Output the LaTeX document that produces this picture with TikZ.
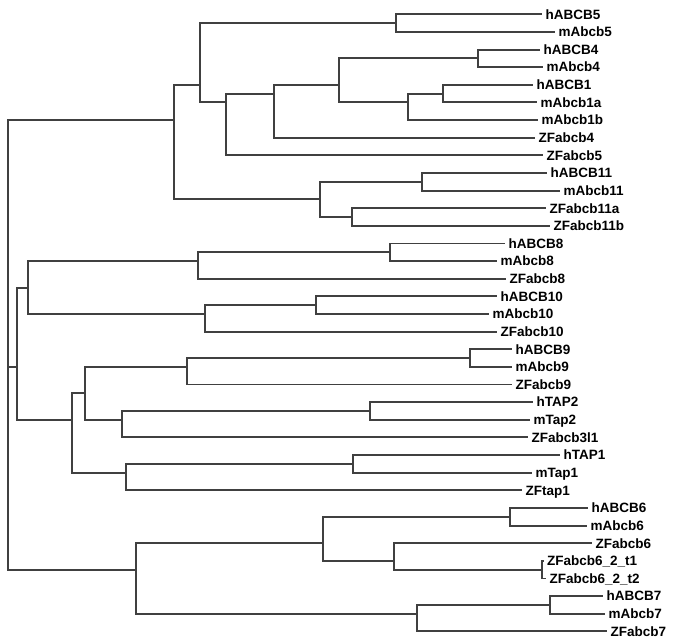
\documentclass[tikz,border=0pt]{standalone}
\usepackage{fontspec}
\setsansfont{Liberation Sans}
\begin{document}
\begin{tikzpicture}[
    x=1pt, y=-17.63pt,
    line join=miter,
    branch/.style={draw=black!75,line width=1.9pt},
    leaf/.style={anchor=west,inner xsep=3.5pt,inner ysep=0pt,
        text height=9.6pt,text depth=0pt,
        font=\sffamily\bfseries\fontsize{13.5}{15}\selectfont}
]
    \useasboundingbox (0pt,0pt) rectangle (675pt,-644pt);
    % one row per leaf; the first row sits 14.3px below the top edge
    \begin{scope}[yshift=-14.3pt]
    \foreach \nm/\ex/\txt [count=\r from 0] in {
        hB5/542/hABCB5, mB5/555/mAbcb5, hB4/540/hABCB4, mB4/543/mAbcb4,
        hB1/533/hABCB1, mB1a/537/mAbcb1a, mB1b/538/mAbcb1b, zB4/535/ZFabcb4,
        zB5/543/ZFabcb5, hB11/547/hABCB11, mB11/560/mAbcb11,
        zB11a/546/ZFabcb11a, zB11b/550/ZFabcb11b,
        hB8/505/hABCB8, mB8/497/mAbcb8, zB8/506/ZFabcb8,
        hB10/497/hABCB10, mB10/489/mAbcb10, zB10/497/ZFabcb10,
        hB9/512/hABCB9, mB9/512/mAbcb9, zB9/512/ZFabcb9,
        hT2/533/hTAP2, mT2/530/mTap2, zB3l1/528/ZFabcb3l1,
        hT1/560/hTAP1, mT1/532/mTap1, zT1/522/ZFtap1,
        hB6/588/hABCB6, mB6/587/mAbcb6, zB6/592/ZFabcb6,
        zB6a/543.5/{ZFabcb6\_2\_t1}, zB6b/546/{ZFabcb6\_2\_t2},
        hB7/603/hABCB7, mB7/605/mAbcb7, zB7/607/ZFabcb7}
        \node[leaf] (\nm) at (\ex,\r) {\txt};

    % internal nodes: x is the branch depth, y the mean row of the clade
    \coordinate (r) at (8.3,20);
    \coordinate (n1) at (174,6);
    \coordinate (n2) at (200,4);
    \coordinate (n3) at (395.7,0.5);
    \coordinate (n4) at (226,5);
    \coordinate (n5) at (274.3,4.5);
    \coordinate (n6) at (339.3,4);
    \coordinate (n7) at (478,2.5);
    \coordinate (n8) at (407.7,5);
    \coordinate (n8a) at (443,4.5);
    \coordinate (n9) at (320.3,10.5);
    \coordinate (n10) at (421.7,9.5);
    \coordinate (n11) at (352.3,11.5);
    \coordinate (n12) at (17.3,20);
    \coordinate (n13) at (28.3,15.5);
    \coordinate (n14) at (197.7,14);
    \coordinate (n15) at (390,13.5);
    \coordinate (n16) at (205,17);
    \coordinate (n17) at (315.7,16.5);
    \coordinate (n18) at (71.7,23);
    \coordinate (n19) at (85,21.5);
    \coordinate (n20) at (187.3,20);
    \coordinate (n20a) at (470,19.5);
    \coordinate (n21) at (122.3,23);
    \coordinate (n21a) at (370,22.5);
    \coordinate (n22) at (126,26);
    \coordinate (n22a) at (353.3,25.5);
    \coordinate (n23) at (136.3,31.5);
    \coordinate (n24) at (322.7,30);
    \coordinate (n25) at (510,28.5);
    \coordinate (n26) at (394.3,31);
    \coordinate (n26a) at (541.7,31.5);
    \coordinate (n27) at (417.3,34);
    \coordinate (n27a) at (550,33.5);

    % ABCB4/1/5/11 group
    \draw[branch] (r) |- (n1) (r) |- (n12) (r) |- (n23);
    \draw[branch] (n1) |- (n2) (n1) |- (n9);
    \draw[branch] (n2) |- (n3) (n2) |- (n4);
    \draw[branch] (n3) |- (hB5.west) (n3) |- (mB5.west);
    \draw[branch] (n4) |- (n5) (n4) |- (zB5.west);
    \draw[branch] (n5) |- (n6) (n5) |- (zB4.west);
    \draw[branch] (n6) |- (n7) (n6) |- (n8);
    \draw[branch] (n7) |- (hB4.west) (n7) |- (mB4.west);
    \draw[branch] (n8) |- (n8a) (n8) |- (mB1b.west);
    \draw[branch] (n8a) |- (hB1.west) (n8a) |- (mB1a.west);
    \draw[branch] (n9) |- (n10) (n9) |- (n11);
    \draw[branch] (n10) |- (hB11.west) (n10) |- (mB11.west);
    \draw[branch] (n11) |- (zB11a.west) (n11) |- (zB11b.west);

    % ABCB8/10/9 and TAP group
    \draw[branch] (n12) |- (n13) (n12) |- (n18);
    \draw[branch] (n13) |- (n14) (n13) |- (n16);
    \draw[branch] (n14) |- (n15) (n14) |- (zB8.west);
    \draw[branch] (n15) |- (hB8.west) (n15) |- (mB8.west);
    \draw[branch] (n16) |- (n17) (n16) |- (zB10.west);
    \draw[branch] (n17) |- (hB10.west) (n17) |- (mB10.west);
    \draw[branch] (n18) |- (n19) (n18) |- (n22);
    \draw[branch] (n19) |- (n20) (n19) |- (n21);
    \draw[branch] (n20) |- (n20a) (n20) |- (zB9.west);
    \draw[branch] (n20a) |- (hB9.west) (n20a) |- (mB9.west);
    \draw[branch] (n21) |- (n21a) (n21) |- (zB3l1.west);
    \draw[branch] (n21a) |- (hT2.west) (n21a) |- (mT2.west);
    \draw[branch] (n22) |- (n22a) (n22) |- (zT1.west);
    \draw[branch] (n22a) |- (hT1.west) (n22a) |- (mT1.west);

    % ABCB6/7 group
    \draw[branch] (n23) |- (n24) (n23) |- (n27);
    \draw[branch] (n24) |- (n25) (n24) |- (n26);
    \draw[branch] (n25) |- (hB6.west) (n25) |- (mB6.west);
    \draw[branch] (n26) |- (zB6.west) (n26) |- (n26a);
    \draw[branch] (n26a) |- (zB6a.west) (n26a) |- (zB6b.west);
    \draw[branch] (n27) |- (n27a) (n27) |- (zB7.west);
    \draw[branch] (n27a) |- (hB7.west) (n27a) |- (mB7.west);
    \end{scope}
\end{tikzpicture}
\end{document}
